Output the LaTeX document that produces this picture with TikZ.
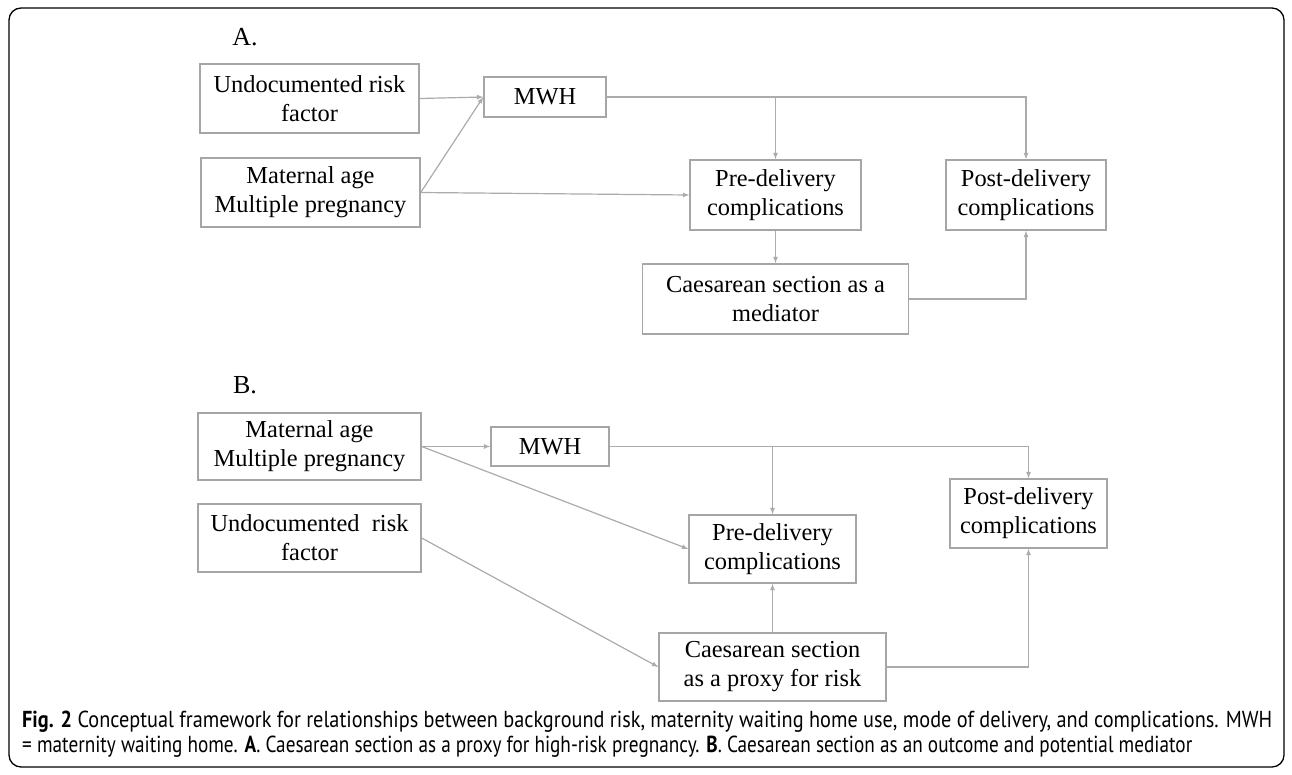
\documentclass[tikz,border=0pt]{standalone}
\usepackage{tikz}
\usepackage{fontspec}
\setmainfont{Liberation Serif}
\newfontfamily\capfont{PT Sans}
\usetikzlibrary{arrows}
\definecolor{boxgray}{HTML}{A6A6A6}
\definecolor{linegray}{HTML}{ABABAB}
\tikzset{
	boxnode/.style={draw=boxgray, line width=1.4pt, fill=white, align=center, inner sep=2pt,
		font=\fontsize{24.4}{29}\selectfont},
	arrowline/.style={draw=linegray, line width=1.2pt, -latex},
	partlabel/.style={font=\fontsize{26}{30}\selectfont}
}
\begin{document}
\begin{tikzpicture}[x=1pt, y=-1pt]
		\useasboundingbox (0,0) rectangle (1292,774);
		\draw[black, line width=1.3pt, rounded corners=12pt] (9,8) rectangle (1284,767);
		% part A
		\node[partlabel] (labA) at (245,37) {A.};
		\node[boxnode, minimum width=219pt, minimum height=69pt] (undA) at (309.5,98.5) {Undocumented risk\\factor};
		\node[boxnode, minimum width=219pt, minimum height=69pt] (matA) at (310.5,192.5) {Maternal age\\Multiple pregnancy};
		\node[boxnode, minimum width=122pt, minimum height=40pt] (mwhA) at (545,97) {MWH};
		\node[boxnode, minimum width=171pt, minimum height=70pt] (preA) at (775.5,195) {Pre-delivery\\complications};
		\node[boxnode, minimum width=160pt, minimum height=70pt] (postA) at (1026,195) {Post-delivery\\complications};
		\node[boxnode, minimum width=266pt, minimum height=70pt] (caesA) at (775.5,299) {Caesarean section as a\\mediator};
		\draw[arrowline] (undA.east) -- (mwhA.west);
		\draw[arrowline] (matA.east) -- (mwhA.west);
		\draw[arrowline] (matA.east) -- (preA.west);
		\draw[arrowline] (mwhA.east) -| (postA.north);
		\draw[arrowline] (mwhA.east -| preA.north) -- (preA.north);
		\draw[arrowline] (preA.south) -- (caesA.north);
		\draw[arrowline] (caesA.east) -| (postA.south);
		% part B
		\node[partlabel] (labB) at (245,385) {B.};
		\node[boxnode, minimum width=223pt, minimum height=67pt] (matB) at (309.5,446.5) {Maternal age\\Multiple pregnancy};
		\node[boxnode, minimum width=223pt, minimum height=68pt] (undB) at (309.5,538) {Undocumented~~risk\\factor};
		\node[boxnode, minimum width=118pt, minimum height=39pt] (mwhB) at (550,446.5) {MWH};
		\node[boxnode, minimum width=167pt, minimum height=68pt] (preB) at (772.5,549) {Pre-delivery\\complications};
		\node[boxnode, minimum width=157pt, minimum height=69pt] (postB) at (1028.5,513.5) {Post-delivery\\complications};
		\node[boxnode, minimum width=227pt, minimum height=68pt] (caesB) at (772.5,667) {Caesarean section\\as a proxy for risk};
		\draw[arrowline] (matB.east) -- (mwhB.west);
		\draw[arrowline] (matB.east) -- (preB.west);
		\draw[arrowline] (undB.east) -- (caesB.west);
		\draw[arrowline] (mwhB.east) -| (postB.north);
		\draw[arrowline] (mwhB.east -| preB.north) -- (preB.north);
		\draw[arrowline] (caesB.north) -- (preB.south);
		\draw[arrowline] (caesB.east) -| (postB.south);
		% caption
		\node[anchor=west, inner sep=0pt] (capone) at (22,722) {\resizebox{1250pt}{16.5pt}{\capfont\textbf{Fig. 2} Conceptual framework for relationships between background risk, maternity waiting home use, mode of delivery, and complications. MWH}};
		\node[anchor=west, inner sep=0pt] (captwo) at (22,747) {\resizebox{1170pt}{16.5pt}{\capfont = maternity waiting home. \textbf{A}. Caesarean section as a proxy for high-risk pregnancy. \textbf{B}. Caesarean section as an outcome and potential mediator}};
	\end{tikzpicture}
\end{document}
